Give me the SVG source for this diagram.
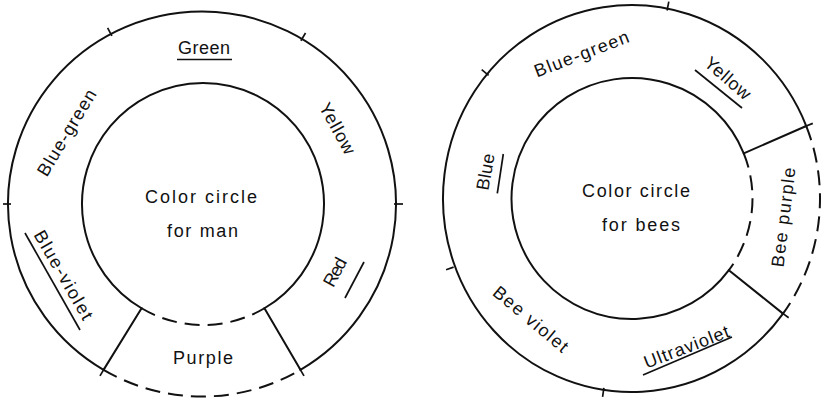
<svg xmlns="http://www.w3.org/2000/svg" width="825" height="403" viewBox="0 0 825 403">
<style>
.s{fill:none;stroke:#111;stroke-width:2;stroke-linecap:round}
.d{fill:none;stroke:#111;stroke-width:2;stroke-dasharray:15 8}
.t{stroke:#111;stroke-width:1.7;fill:none}
.u{stroke:#111;stroke-width:1.7}
text{font-family:"Liberation Sans","DejaVu Sans",Arial,sans-serif;font-size:18px;fill:#111;text-anchor:middle}
</style>
<rect width="825" height="403" fill="#fff"/>
<g id="man-circle">
  <g id="man-outer">
    <path class="s" d="M103.55 369.86 A194 192.5 0 1 1 300.45 369.86"/>
    <path class="d" d="M103.55 369.86 A194 192.5 0 0 0 300.45 369.86"/>
  </g>
  <g id="man-inner">
    <path class="s" d="M141.56 308.25 A121 121 0 1 1 264.44 308.25"/>
    <path class="d" d="M141.56 308.25 A121 121 0 0 0 264.44 308.25"/>
  </g>
  <g id="man-ticks">
    <line class="t" x1="394" y1="204" x2="403" y2="204"/>
    <line class="t" x1="11" y1="204" x2="3" y2="204"/>
    <line class="t" x1="111.9" y1="35.8" x2="107.6" y2="27.8"/>
    <line class="t" x1="300.9" y1="40.7" x2="305.5" y2="33"/>
    <line class="t" x1="299.4" y1="368.1" x2="304" y2="375.9"/>
    <line class="t" x1="104.6" y1="368.1" x2="100" y2="375.9"/>
  </g>
  <g id="man-dividers">
    <line class="s" x1="141.56" y1="308.25" x2="103.55" y2="369.86"/>
    <line class="s" x1="264.44" y1="308.25" x2="300.45" y2="369.86"/>
  </g>
  <g id="man-labels">
    <text x="204" y="54" textLength="52">Green</text>
    <line class="u" x1="177" y1="59.5" x2="232" y2="59.5"/>
    <text transform="rotate(-59 71.9 135.8)" x="71.9" y="135.8" textLength="98">Blue-green</text>
    <text transform="rotate(61 332 131.4)" x="332" y="131.4" textLength="56">Yellow</text>
    <text x="201" y="203" textLength="112">Color circle</text>
    <text x="202.5" y="237" textLength="71">for man</text>
    <text transform="rotate(60 58.2 278)" x="58.2" y="278" textLength="100">Blue-violet</text>
    <line class="u" x1="25" y1="233" x2="80" y2="330"/>
    <text transform="rotate(-62 340.4 275)" x="340.4" y="275" textLength="30">Red</text>
    <line class="u" x1="345" y1="298" x2="364" y2="262"/>
    <text x="203" y="364" textLength="60">Purple</text>
  </g>
</g>
<g id="bee-circle">
  <g id="bee-outer">
    <path class="s" d="M783.03 313.6 A188.5 193.5 0 1 1 806.27 126.01"/>
    <path class="d" d="M806.27 126.01 A188.5 193.5 0 0 1 783.03 313.6"/>
  </g>
  <g id="bee-inner">
    <path class="s" d="M728.87 270.18 A120.5 120.5 0 1 1 743.73 153.36"/>
    <path class="d" d="M743.73 153.36 A120.5 120.5 0 0 1 728.87 270.18"/>
  </g>
  <g id="bee-ticks">
    <line class="t" x1="488.6" y1="75.4" x2="481.7" y2="69.6"/>
    <line class="t" x1="667.1" y1="10.5" x2="668.8" y2="1.7"/>
    <line class="t" x1="804.4" y1="126.8" x2="812.8" y2="123.4"/>
    <line class="t" x1="781.4" y1="312.4" x2="788.7" y2="317.8"/>
    <line class="t" x1="603.9" y1="387.9" x2="602.6" y2="396.8"/>
    <line class="t" x1="453.6" y1="267.1" x2="446.1" y2="269.8"/>
  </g>
  <g id="bee-dividers">
    <line class="s" x1="743.73" y1="153.36" x2="806.27" y2="126.01"/>
    <line class="s" x1="728.87" y1="270.18" x2="783.03" y2="313.6"/>
  </g>
  <g id="bee-labels">
    <text transform="rotate(-21 583.8 59.7)" x="583.8" y="59.7" textLength="100">Blue-green</text>
    <text transform="rotate(41 723.7 82.8)" x="723.7" y="82.8" textLength="55">Yellow</text>
    <line class="u" x1="695" y1="70" x2="742" y2="108"/>
    <text transform="rotate(-80 491.5 172.8)" x="491.5" y="172.8" textLength="37">Blue</text>
    <line class="u" x1="503.3" y1="154" x2="497.3" y2="193.3"/>
    <text x="636" y="197" textLength="108">Color circle</text>
    <text x="641" y="231" textLength="78">for bees</text>
    <text transform="rotate(-83 789.5 218)" x="789.5" y="218" textLength="100">Bee purple</text>
    <text transform="rotate(40 526.8 323.8)" x="526.8" y="323.8" textLength="92">Bee violet</text>
    <text transform="rotate(-21 688.8 352.7)" x="688.8" y="352.7" textLength="90">Ultraviolet</text>
    <line class="u" x1="643" y1="375" x2="732" y2="337"/>
  </g>
</g>
</svg>
